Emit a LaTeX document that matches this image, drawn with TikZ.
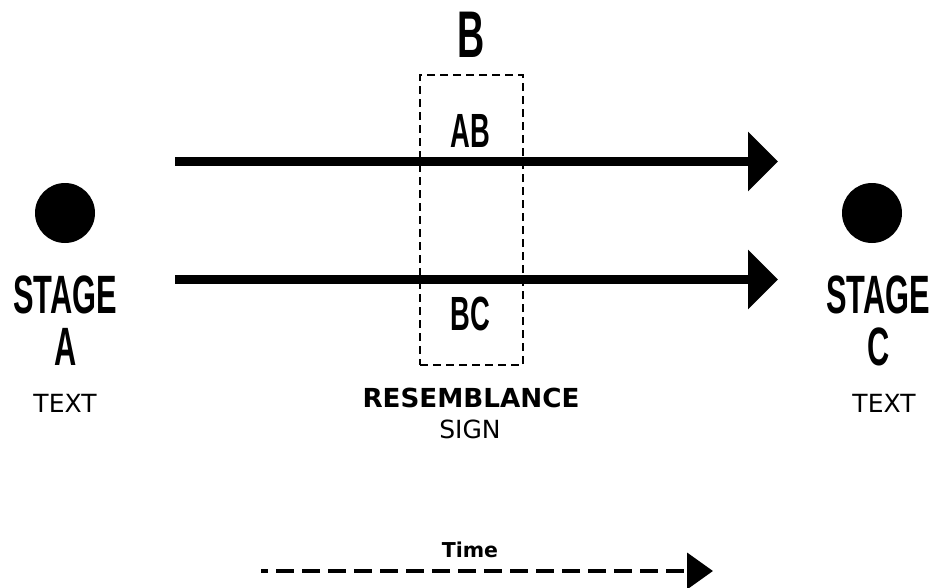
\documentclass[tikz,border=0pt]{standalone}
\usepackage{fontspec}
\setmainfont{DejaVu Sans}
\newfontfamily\bebas[FakeStretch=0.57]{Liberation Sans}
\usetikzlibrary{arrows.meta}
\tikzset{
  dot/.style={circle, fill=black, minimum size=60pt, inner sep=0pt},
  bigtext/.style={font=\bebas\bfseries\fontsize{54}{54}\selectfont, inner sep=0pt, anchor=base},
  midtext/.style={font=\bebas\bfseries\fontsize{48}{48}\selectfont, inner sep=0pt, anchor=base},
  toptext/.style={font=\bebas\bfseries\fontsize{66}{66}\selectfont, inner sep=0pt, anchor=base},
  smalltext/.style={font=\fontsize{25}{25}\selectfont, inner sep=0pt, anchor=base},
  boldtext/.style={font=\bfseries\fontsize{26.2}{26.2}\selectfont, inner sep=0pt, anchor=base},
  timetext/.style={font=\bfseries\fontsize{20.5}{20.5}\selectfont, inner sep=0pt, anchor=base},
  flow/.style={line width=9pt, -{Triangle[length=30pt,width=58pt]}},
  timeflow/.style={line width=4pt, dash pattern=on 18pt off 8pt, dash phase=11pt, -{Triangle[length=26pt,width=36pt]}},
  signbox/.style={draw, line width=1.8pt, dash pattern=on 8pt off 5pt, minimum width=103pt, minimum height=290pt, inner sep=0pt}
}
\begin{document}
\begin{tikzpicture}[x=1pt,y=-1pt]
\useasboundingbox (0,0) rectangle (940,587);
% left stage
\node[dot] (ca) at (65,213) {};
\node[bigtext] (sa) at (65,313) {STAGE};
\node[bigtext] (la) at (66,365) {A};
\node[smalltext] (ta) at (65,412) {TEXT};
% right stage
\node[dot] (cc) at (872,213) {};
\node[bigtext] (sc) at (878,313) {STAGE};
\node[bigtext] (lc) at (879,365) {C};
\node[smalltext] (tc) at (884,412) {TEXT};
% middle
\node[toptext] (b) at (471,57) {B};
\node[signbox] (box) at (471.5,220) {};
\node[midtext] (ab) at (470,147) {AB};
\node[midtext] (bc) at (470,330) {BC};
\node[boldtext] (res) at (471,407) {RESEMBLANCE};
\node[smalltext] (sign) at (470,438) {SIGN};
% arrows
\coordinate (s1) at (175,161.5);
\coordinate (e1) at (778,161.5);
\coordinate (s2) at (175,279.5);
\coordinate (e2) at (778,279.5);
\draw[flow] (s1) -- (e1);
\draw[flow] (s2) -- (e2);
% time
\node[timetext] (time) at (470,557) {Time};
\coordinate (t1) at (261,571);
\coordinate (t2) at (713,571);
\draw[timeflow] (t1) -- (t2);
\end{tikzpicture}
\end{document}
